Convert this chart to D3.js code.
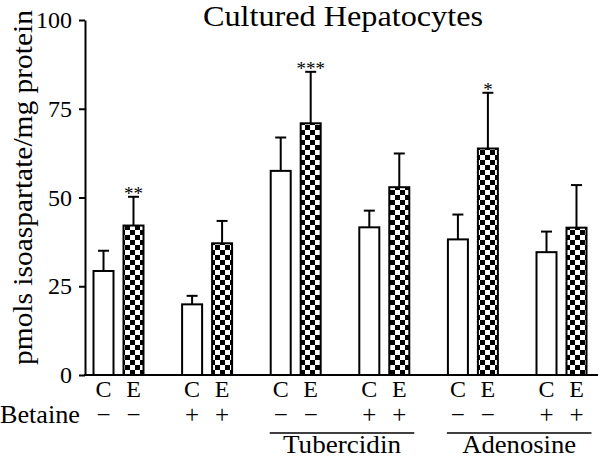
<!DOCTYPE html>
<html>
<head>
<meta charset="utf-8">
<script src="https://cdn.jsdelivr.net/npm/d3@7"></script>
<style>
  body { margin: 0; background: #fff; }
</style>
</head>
<body>
<div id="chart"></div>
<script>
// data
const groups = ["g1", "g2", "g3", "g4", "g5", "g6"];
const conditions = ["C", "E"];
const cValues = [29.3, 19.9, 57.5, 41.6, 38.2, 34.6];
const cErrors = [5.7, 2.4, 9.4, 4.7, 7.0, 5.8];
const eValues = [42.1, 37.1, 70.9, 52.9, 63.8, 41.5];
const eErrors = [8.1, 6.3, 14.5, 9.5, 15.7, 12.0];
const eStars = ["**", "", "***", "", "*", ""];
const betaine = ["\u2212", "+", "\u2212", "+", "\u2212", "+"];
const treatments = ["Tubercidin", "Adenosine"];
const treatmentGroups = [["g3", "g4"], ["g5", "g6"]];
const yTicks = [0, 25, 50, 75, 100];

const width = 600, height = 459;
const margin = { top: 20, right: 2, bottom: 84, left: 85 };
const serif = "Liberation Serif";

const svg = d3.select("#chart").append("svg")
  .attr("width", width)
  .attr("height", height);

const y = d3.scaleLinear()
  .domain([0, 100])
  .range([height - margin.bottom, margin.top]);

// group centres
const x = d3.scalePoint()
  .domain(groups)
  .range([118.5, 561.5]);

// C / E offset inside a group
const xInner = d3.scaleBand()
  .domain(conditions)
  .range([-30, 30])
  .paddingInner(0.333)
  .paddingOuter(0.167);

// checker pattern for E bars
const defs = svg.append("defs");
const pat = defs.append("pattern")
  .attr("id", "checker")
  .attr("patternUnits", "userSpaceOnUse")
  .attr("width", 10)
  .attr("height", 10);
pat.append("rect").attr("width", 10).attr("height", 10).attr("fill", "#fff");
pat.append("rect").attr("width", 5).attr("height", 5).attr("fill", "#000");
pat.append("rect").attr("x", 5).attr("y", 5).attr("width", 5).attr("height", 5).attr("fill", "#000");

// build bar list
const bars = [];
groups.forEach((g, i) => {
  bars.push({ group: g, cond: "C", value: cValues[i], err: cErrors[i], stars: "" });
  bars.push({ group: g, cond: "E", value: eValues[i], err: eErrors[i], stars: eStars[i] });
});
const cx = d => x(d.group) + xInner(d.cond) + xInner.bandwidth() / 2;

// helper for serif text
const txt = (sel, size) => sel.attr("font-family", serif).attr("font-size", size).attr("fill", "#000");

// error bars (upper only)
const capW = 11;
const errG = svg.append("g").attr("stroke", "#000").attr("stroke-width", 2);
errG.selectAll("line.stem")
  .data(bars)
  .join("line")
  .attr("class", "stem")
  .attr("x1", cx).attr("x2", cx)
  .attr("y1", d => y(d.value))
  .attr("y2", d => y(d.value + d.err));
errG.selectAll("line.cap")
  .data(bars)
  .join("line")
  .attr("class", "cap")
  .attr("x1", d => cx(d) - capW / 2)
  .attr("x2", d => cx(d) + capW / 2)
  .attr("y1", d => y(d.value + d.err))
  .attr("y2", d => y(d.value + d.err));

// bars
svg.append("g")
  .selectAll("rect")
  .data(bars)
  .join("rect")
  .attr("x", d => x(d.group) + xInner(d.cond))
  .attr("y", d => y(d.value))
  .attr("width", xInner.bandwidth())
  .attr("height", d => y(0) - y(d.value))
  .attr("fill", d => d.cond === "E" ? "url(#checker)" : "#fff")
  .attr("stroke", "#000")
  .attr("stroke-width", 2);

// significance stars
svg.append("g")
  .selectAll("text")
  .data(bars.filter(d => d.stars))
  .join("text")
  .attr("x", cx)
  .attr("y", d => y(d.value + d.err) + 3.5)
  .attr("text-anchor", "middle")
  .call(txt, 19)
  .text(d => d.stars);

// y axis
const yAxis = svg.append("g")
  .attr("transform", `translate(${margin.left},0)`)
  .call(d3.axisLeft(y).tickValues(yTicks).tickSize(6).tickSizeOuter(0).tickPadding(7));
yAxis.select(".domain").attr("stroke-width", 2);
yAxis.selectAll(".tick line").attr("stroke-width", 2);
yAxis.selectAll(".tick text").call(txt, 24);

// x axis line
svg.append("line")
  .attr("x1", margin.left - 1)
  .attr("x2", width - margin.right)
  .attr("y1", y(0))
  .attr("y2", y(0))
  .attr("stroke", "#000")
  .attr("stroke-width", 2);

// C / E labels
svg.append("g")
  .selectAll("text")
  .data(bars)
  .join("text")
  .attr("x", cx)
  .attr("y", y(0) + 22)
  .attr("text-anchor", "middle")
  .call(txt, 24)
  .text(d => d.cond);

// betaine row
svg.append("text")
  .attr("x", 0)
  .attr("y", y(0) + 48)
  .attr("textLength", 80)
  .attr("lengthAdjust", "spacingAndGlyphs")
  .call(txt, 25)
  .text("Betaine");
svg.append("g")
  .selectAll("text")
  .data(bars)
  .join("text")
  .attr("x", cx)
  .attr("y", y(0) + 48)
  .attr("text-anchor", "middle")
  .call(txt, 25)
  .text(d => betaine[groups.indexOf(d.group)]);

// treatment brackets
const treatLen = [118, 114];
treatments.forEach((t, i) => {
  const [g0, g1] = treatmentGroups[i];
  const x0 = x(g0) + xInner("C") - 1;
  const x1 = x(g1) + xInner("E") + xInner.bandwidth() + 5;
  svg.append("line")
    .attr("x1", x0).attr("x2", x1)
    .attr("y1", y(0) + 58).attr("y2", y(0) + 58)
    .attr("stroke", "#000")
    .attr("stroke-width", 1.5);
  svg.append("text")
    .attr("x", (x0 + x1) / 2)
    .attr("y", y(0) + 78)
    .attr("text-anchor", "middle")
    .attr("textLength", treatLen[i])
    .attr("lengthAdjust", "spacingAndGlyphs")
    .call(txt, 25)
    .text(t);
});

// title
svg.append("text")
  .attr("x", 343)
  .attr("y", 26)
  .attr("text-anchor", "middle")
  .attr("textLength", 280)
  .attr("lengthAdjust", "spacingAndGlyphs")
  .call(txt, 30)
  .text("Cultured Hepatocytes");

// y label
svg.append("text")
  .attr("transform", `translate(32,187.5) rotate(-90)`)
  .attr("text-anchor", "middle")
  .attr("textLength", 355)
  .attr("lengthAdjust", "spacingAndGlyphs")
  .call(txt, 27)
  .text("pmols isoaspartate/mg protein");
</script>
</body>
</html>
